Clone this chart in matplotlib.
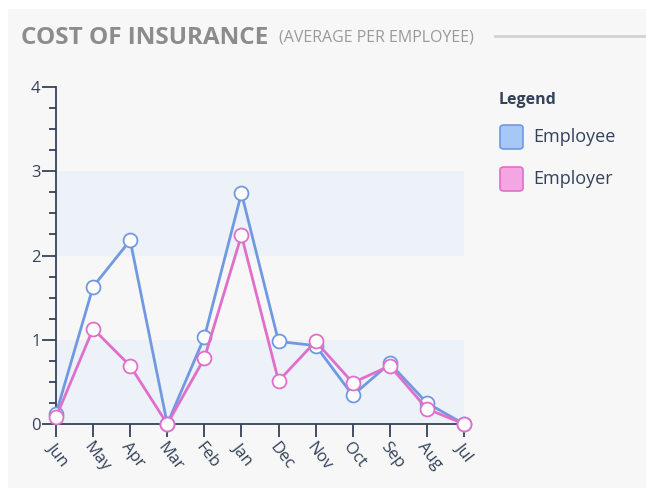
import numpy as np
import matplotlib
matplotlib.use("Agg")
import matplotlib.pyplot as plt
from matplotlib.patches import FancyBboxPatch, Rectangle
from matplotlib.lines import Line2D

plt.rcParams['font.family'] = ['Open Sans', 'DejaVu Sans']

# data
months = ['Jun', 'May', 'Apr', 'Mar', 'Feb', 'Jan', 'Dec', 'Nov', 'Oct', 'Sep', 'Aug', 'Jul']
employee = [0.12, 1.63, 2.18, 0.0, 1.03, 2.74, 0.98, 0.93, 0.34, 0.72, 0.25, 0.0]
employer = [0.08, 1.13, 0.69, 0.0, 0.78, 2.24, 0.51, 0.98, 0.49, 0.69, 0.18, 0.0]
series_names = ['Employee', 'Employer']
y_ticks = [0, 1, 2, 3, 4]

blue = '#7199e2'
pink = '#df6fcb'
txt = '#34425a'

fig = plt.figure(figsize=(6.46, 4.88), dpi=100)
fig.patch.set_facecolor('white')
# panel background
fig.add_artist(Rectangle((8 / 646, 0), 1, 1 - 9 / 488, transform=fig.transFigure,
                         facecolor='#f7f7f7', edgecolor='none', zorder=0))

ax = fig.add_axes([56 / 646, 64 / 488, 408 / 646, 337 / 488])
ax.set_facecolor('none')
x = np.arange(len(months))

# alternating bands
for lo in (0, 2):
    ax.axhspan(lo, lo + 1, color='#edf1f8', zorder=0, lw=0)

ax.plot(x, employee, color=blue, lw=2, marker='o', ms=10, mfc='white', mec=blue,
        mew=1.3, clip_on=False, zorder=3)
ax.plot(x, employer, color=pink, lw=2, marker='o', ms=10, mfc='white', mec=pink,
        mew=1.3, clip_on=False, zorder=4)

ax.set_xlim(0, len(months) - 1)
ax.set_ylim(0, 4)
ax.set_yticks(y_ticks)
ax.set_yticks(np.arange(0, 4.01, 0.25), minor=True)
ax.set_xticks(x)
ax.set_xticklabels(months, rotation=-52, ha='left', va='top', rotation_mode='anchor',
                   fontsize=12, color=txt)
ax.tick_params(axis='y', which='major', length=10, width=1.3, color=txt, labelsize=12,
               labelcolor=txt, pad=1)
ax.tick_params(axis='y', which='minor', length=5, width=1.3, color=txt)
ax.tick_params(axis='x', length=9, width=1.3, color=txt, pad=2)
for s in ('top', 'right'):
    ax.spines[s].set_visible(False)
for s in ('left', 'bottom'):
    ax.spines[s].set_color(txt)
    ax.spines[s].set_linewidth(1.3)

# title
fig.text(21 / 646, 1 - 38 / 488, 'COST OF INSURANCE', fontsize=17.5, fontweight='bold',
         color='#8c8c8c', va='center', ha='left')
fig.text(279 / 646, 1 - 38 / 488, '(AVERAGE PER EMPLOYEE)', fontsize=11.5,
         color='#9a9a9a', va='center', ha='left')
fig.add_artist(Line2D([495 / 646, 1], [1 - 36 / 488] * 2, color='#d2d2d2', lw=2,
                      transform=fig.transFigure))

# legend
fig.text(499 / 646, 1 - 100 / 488, 'Legend', fontsize=11.5, fontweight='bold', color=txt,
         va='center', ha='left')
leg_fill = ['#a6c8f6', '#f4a6e2']
leg_edge = [blue, pink]
for i, name in enumerate(series_names):
    yc = 137 + i * 42
    fig.add_artist(FancyBboxPatch((500 / 646, 1 - (yc + 12) / 488), 23 / 646, 24 / 488,
                                  boxstyle='round,pad=0,rounding_size=0.006',
                                  facecolor=leg_fill[i], edgecolor=leg_edge[i], lw=1.2,
                                  transform=fig.transFigure))
    fig.text(533 / 646, 1 - yc / 488, name, fontsize=13, color=txt, va='center', ha='left')

fig.savefig('out.png', dpi=100, facecolor=fig.get_facecolor())
